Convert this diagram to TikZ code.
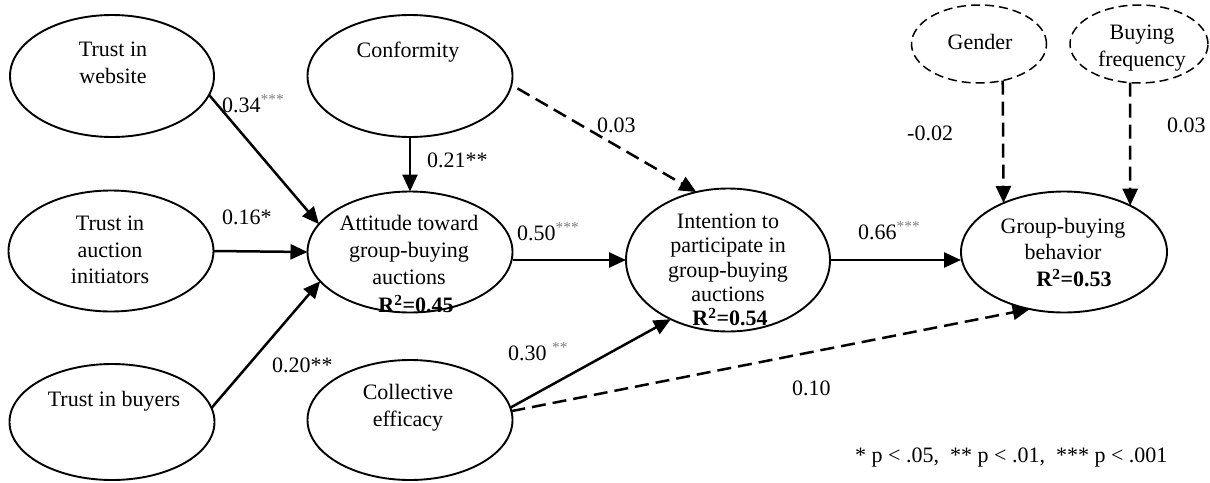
\documentclass[tikz,border=0pt]{standalone}
\usepackage{fontspec}
\setmainfont{Liberation Serif}
\usetikzlibrary{shapes.geometric,arrows.meta}
\definecolor{stargray}{HTML}{808080}
\newcommand{\gst}[1]{\textsuperscript{\textcolor{stargray}{#1}}}
\begin{document}
\begin{tikzpicture}[x=1pt,y=-1pt,
  ell/.style={ellipse,draw,line width=1.9pt,inner sep=0pt,outer sep=0pt},
  dell/.style={ell,line width=1.5pt,dash pattern=on 9pt off 5pt},
  txt/.style={font=\fontsize{22}{26.7}\selectfont,align=center,inner sep=0pt},
  rsq/.style={font=\fontsize{22}{26.7}\selectfont\bfseries,inner sep=0pt},
  lbl/.style={font=\fontsize{22}{26.7}\selectfont,inner sep=0pt,anchor=base west},
  arr/.style={line width=2.5pt,-{Triangle[length=17pt,width=15pt]}},
  darr/.style={arr,dash pattern=on 14pt off 7pt},
]
\useasboundingbox (0,0) rectangle (1210,482);

% ellipses
\node[ell,minimum width=204pt,minimum height=122pt] (tw) at (112,76) {};
\node[ell,minimum width=205pt,minimum height=121pt] (ta) at (111,251) {};
\node[ell,minimum width=205pt,minimum height=116pt] (tb) at (112,422) {};
\node[ell,minimum width=205pt,minimum height=122pt] (conf) at (410,76) {};
\node[ell,minimum width=205pt,minimum height=121pt] (att) at (410,252) {};
\node[ell,minimum width=205pt,minimum height=120pt] (coll) at (410,420) {};
\node[ell,minimum width=204pt,minimum height=143pt] (int) at (728,260) {};
\node[ell,minimum width=206pt,minimum height=121pt] (gb) at (1064,252) {};
\node[dell,minimum width=135pt,minimum height=78pt] (gen) at (979,44) {};
\node[dell,minimum width=138pt,minimum height=78pt] (bf) at (1139,44) {};

% texts
\node[txt] (twt) at (113,63) {Trust in\\website};
\node[txt] (tat) at (110,250) {Trust in\\auction\\initiators};
\node[txt] (tbt) at (114,401) {Trust in buyers};
\node[txt] (conft) at (408,52.6) {Conformity};
\node[txt] (attt) at (409,250) {Attitude toward\\group-buying\\auctions};
\node[rsq] (attr) at (416,304) {R\textsuperscript{2}=0.45};
\node[txt] (collt) at (408,408) {Collective\\efficacy};
\node[txt,font=\fontsize{22}{24.5}\selectfont] (intt) at (728,258) {Intention to\\participate in\\group-buying\\auctions};
\node[rsq] (intr) at (730,317) {R\textsuperscript{2}=0.54};
\node[txt] (gbt) at (1063,239) {Group-buying\\behavior};
\node[rsq] (gbr) at (1074,278) {R\textsuperscript{2}=0.53};
\node[txt] (gent) at (980,42) {Gender};
\node[txt] (bft) at (1142,48) {Buying\\frequency};

% connectors
\draw[arr] (tw.-11) -- (att.163);
\draw[arr] (ta.east) -- (att.west);
\draw[arr] (tb.8) -- (att.-162);
\draw[arr] (conf.south) -- (att.north);
\draw[darr,shorten <=7pt] (conf.-5) -- (int.115);
\draw[arr] (att.east |- int.west) -- (int.west);
\draw[arr] (coll.7) -- (int.-134);
\draw[darr] (coll.5) -- (gb.-121);
\draw[arr] (int.east) -- (int.east -| gb.west);
\draw[darr] (gen.-57) -- (gb.141);
\draw[darr] (bf.-103) -- (gb.35);

% path labels
\node[lbl] (l1) at (222,112) {0.34\gst{***}};
\node[lbl] (l2) at (222,224) {0.16*};
\node[lbl] (l3) at (272,372) {0.20**};
\node[lbl] (l4) at (427,167) {0.21**};
\node[lbl] (l5) at (597,132) {0.03};
\node[lbl] (l6) at (517,240) {0.50\gst{***}};
\node[lbl] (l7) at (508,360) {0.30 \gst{**}};
\node[lbl] (l8) at (792,395) {0.10};
\node[lbl] (l9) at (858,239) {0.66\gst{***}};
\node[lbl] (l10) at (907,140) {-0.02};
\node[lbl] (l11) at (1167,132) {0.03};
\node[lbl] (fn) at (855,462) {* p < .05,~ ** p < .01,~ *** p < .001};
\end{tikzpicture}
\end{document}
